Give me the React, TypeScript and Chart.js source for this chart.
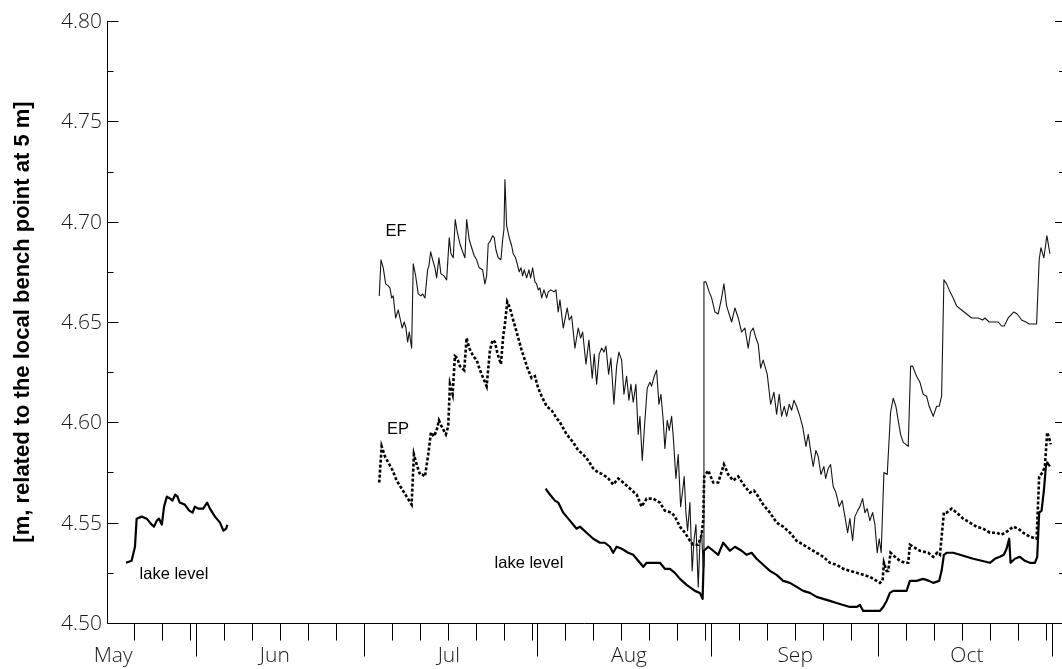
import React, { useEffect, useRef } from "react";
import { Chart, registerables } from "chart.js";

Chart.register(...registerables);

// Time axis: days counted from 1 May (1 May = 0).
const monthStarts = [0, 31, 61, 92, 123, 153, 184];
const monthNames = ["May", "Jun", "Jul", "Aug", "Sep", "Oct"];
const monthLabelDays = [16.2, 45.1, 76.2, 108.4, 138.1, 168.8];
const xRange = [15.1, 185.8];

// Level axis [m]
const yRange = [4.5, 4.8];
const yMajorTicks = [4.5, 4.55, 4.6, 4.65, 4.7, 4.75, 4.8];
const yMinorTicks = [4.525, 4.575, 4.625, 4.675, 4.725, 4.775];

const axisTitle = "[m, related to the local bench point at 5 m]";

// Lake level, spring record [day, m]
const lakeLevelSpring: number[][] = [
  [18.5, 4.53], [19.5, 4.531], [20.1, 4.538], [20.4, 4.552], [21.3, 4.553], [22.2, 4.552],
  [23.1, 4.549], [23.5, 4.548], [24.0, 4.551], [24.4, 4.552], [24.9, 4.549], [25.3, 4.558],
  [25.8, 4.563], [26.4, 4.562], [26.8, 4.561], [27.3, 4.564], [27.7, 4.563], [28.1, 4.56],
  [29.0, 4.559], [29.8, 4.556], [30.4, 4.555], [30.8, 4.558], [31.4, 4.557], [32.3, 4.557],
  [33.0, 4.56], [33.5, 4.557], [34.4, 4.553], [35.3, 4.55], [35.9, 4.546], [36.4, 4.547],
  [36.6, 4.549],
];

// Lake level, late-summer / autumn record [day, m]
const lakeLevelAutumn: number[][] = [
  [93.5, 4.567], [94.27, 4.564], [95.16, 4.561], [95.75, 4.56], [96.65, 4.555], [97.84, 4.551],
  [99.04, 4.547], [99.63, 4.548], [100.83, 4.545], [102.01, 4.542], [103.21, 4.54], [104.1, 4.54],
  [104.99, 4.538], [105.58, 4.535], [106.19, 4.538], [107.09, 4.537], [108.27, 4.535], [109.16, 4.534],
  [110.05, 4.531], [110.95, 4.528], [111.55, 4.53], [112.73, 4.53], [113.93, 4.53], [114.82, 4.527],
  [115.72, 4.527], [116.61, 4.525], [117.51, 4.522], [118.7, 4.519], [120.19, 4.516], [121.08, 4.515],
  [121.56, 4.512], [121.8, 4.536], [122.56, 4.538], [123.46, 4.536], [124.35, 4.534], [125.24, 4.54],
  [126.44, 4.536], [127.34, 4.538], [128.53, 4.536], [129.43, 4.534], [130.32, 4.535], [131.21, 4.532],
  [132.39, 4.529], [133.59, 4.526], [134.79, 4.524], [135.97, 4.521], [137.17, 4.52], [138.36, 4.518],
  [139.54, 4.516], [140.74, 4.515], [141.94, 4.513], [143.12, 4.512], [144.32, 4.511], [145.51, 4.51],
  [146.69, 4.509], [147.89, 4.508], [149.09, 4.508], [149.68, 4.509], [150.27, 4.506], [151.46, 4.506],
  [152.66, 4.506], [153.25, 4.506], [153.84, 4.508], [154.45, 4.511], [155.04, 4.515], [155.63, 4.516],
  [156.83, 4.516], [158.02, 4.516], [158.61, 4.521], [159.81, 4.521], [160.99, 4.522], [162.06, 4.521],
  [162.78, 4.52], [163.85, 4.521], [164.28, 4.526], [164.69, 4.534], [165.17, 4.535], [166.35, 4.535],
  [167.55, 4.534], [168.75, 4.533], [169.93, 4.532], [171.43, 4.531], [172.91, 4.53], [173.81, 4.532],
  [174.7, 4.533], [175.41, 4.534], [175.89, 4.537], [176.36, 4.542], [176.61, 4.53], [177.38, 4.532],
  [178.27, 4.533], [179.17, 4.531], [180.06, 4.53], [180.96, 4.53], [181.37, 4.533], [181.72, 4.555],
  [182.15, 4.556], [182.56, 4.566], [182.92, 4.578], [183.15, 4.58], [183.64, 4.578],
];

// EP level [day, m]
const epLevel: number[][] = [
  [63.76, 4.57], [64.19, 4.588], [64.78, 4.583], [65.37, 4.58], [66.16, 4.576], [66.87, 4.571],
  [67.77, 4.567], [68.66, 4.563], [69.55, 4.559], [69.96, 4.584], [70.45, 4.579], [71.04, 4.574],
  [71.45, 4.574], [71.93, 4.573], [72.52, 4.584], [73.0, 4.595], [73.54, 4.593], [74.02, 4.596],
  [74.43, 4.601], [74.91, 4.598], [75.68, 4.594], [76.09, 4.598], [76.4, 4.619], [76.88, 4.614],
  [77.29, 4.633], [77.7, 4.632], [78.18, 4.628], [78.95, 4.626], [79.38, 4.642], [79.85, 4.637],
  [80.56, 4.633], [81.17, 4.631], [81.76, 4.626], [82.35, 4.622], [82.96, 4.618], [83.55, 4.636],
  [84.03, 4.641], [84.44, 4.64], [84.92, 4.634], [85.51, 4.629], [85.92, 4.643], [86.23, 4.649],
  [86.64, 4.66], [87.12, 4.657], [87.6, 4.652], [88.02, 4.648], [88.61, 4.642], [89.21, 4.636],
  [89.8, 4.631], [90.39, 4.626], [91.0, 4.622], [91.59, 4.623], [92.18, 4.617], [92.79, 4.613],
  [93.68, 4.608], [94.57, 4.606], [95.47, 4.602], [96.06, 4.6], [97.26, 4.594], [98.44, 4.59],
  [99.33, 4.586], [100.22, 4.584], [101.12, 4.581], [102.01, 4.577], [102.9, 4.575], [103.8, 4.574],
  [104.69, 4.572], [105.58, 4.569], [106.48, 4.572], [107.37, 4.57], [108.57, 4.567], [109.77, 4.564],
  [110.66, 4.558], [111.55, 4.562], [112.73, 4.562], [113.93, 4.56], [114.82, 4.556], [116.02, 4.555],
  [116.61, 4.553], [117.51, 4.548], [118.4, 4.545], [119.29, 4.541], [119.88, 4.539], [120.78, 4.539],
  [121.38, 4.544], [121.67, 4.551], [121.85, 4.573], [122.56, 4.576], [123.46, 4.57], [124.35, 4.57],
  [125.37, 4.579], [126.14, 4.574], [127.03, 4.571], [127.93, 4.573], [129.12, 4.568], [130.02, 4.565],
  [130.73, 4.566], [131.5, 4.563], [132.39, 4.559], [133.59, 4.555], [134.79, 4.55], [135.97, 4.548],
  [137.17, 4.545], [138.36, 4.541], [139.54, 4.539], [140.74, 4.537], [141.94, 4.535], [143.12, 4.533],
  [144.32, 4.53], [145.51, 4.529], [146.69, 4.527], [147.89, 4.526], [149.09, 4.525], [150.27, 4.524],
  [151.46, 4.523], [152.66, 4.521], [153.25, 4.52], [153.73, 4.521], [153.97, 4.53], [154.45, 4.526],
  [154.74, 4.526], [155.16, 4.535], [155.93, 4.533], [156.83, 4.531], [157.72, 4.53], [158.31, 4.53],
  [158.61, 4.539], [159.2, 4.538], [160.4, 4.536], [161.88, 4.535], [162.78, 4.533], [163.49, 4.535],
  [163.98, 4.534], [164.69, 4.555], [165.17, 4.555], [166.07, 4.557], [166.96, 4.555], [168.14, 4.552],
  [169.34, 4.55], [170.53, 4.548], [171.71, 4.547], [172.91, 4.545], [174.11, 4.545], [175.0, 4.544],
  [176.18, 4.546], [177.08, 4.548], [177.97, 4.547], [178.86, 4.545], [180.06, 4.543], [181.26, 4.542],
  [181.72, 4.573], [182.33, 4.575], [182.74, 4.578], [183.15, 4.595], [183.51, 4.592], [183.81, 4.589],
];

// EF level [day, m]
const efLevel: number[][] = [
  [63.76, 4.663], [64.07, 4.681], [64.48, 4.677], [64.91, 4.669], [65.37, 4.668], [65.67, 4.667],
  [65.98, 4.662], [66.26, 4.663], [66.69, 4.652], [67.16, 4.656], [67.46, 4.652], [67.87, 4.647],
  [68.23, 4.65], [68.53, 4.647], [68.84, 4.64], [69.12, 4.645], [69.55, 4.637], [69.84, 4.679],
  [70.27, 4.673], [70.73, 4.664], [71.21, 4.663], [71.52, 4.664], [71.93, 4.662], [72.41, 4.676],
  [72.64, 4.678], [72.95, 4.685], [73.31, 4.681], [73.72, 4.677], [74.02, 4.672], [74.43, 4.682],
  [74.79, 4.674], [75.33, 4.673], [75.81, 4.671], [76.27, 4.692], [76.58, 4.684], [76.99, 4.682],
  [77.34, 4.701], [77.7, 4.695], [78.18, 4.689], [78.67, 4.685], [79.08, 4.682], [79.38, 4.701],
  [79.85, 4.691], [80.28, 4.687], [80.74, 4.683], [81.17, 4.681], [81.63, 4.677], [82.24, 4.676],
  [82.65, 4.669], [82.96, 4.673], [83.24, 4.689], [83.55, 4.69], [84.03, 4.693], [84.32, 4.692],
  [84.62, 4.686], [85.03, 4.682], [85.51, 4.681], [85.82, 4.691], [86.05, 4.696], [86.23, 4.721],
  [86.53, 4.698], [87.0, 4.692], [87.43, 4.688], [87.71, 4.684], [88.14, 4.682], [88.43, 4.679],
  [88.78, 4.675], [89.09, 4.677], [89.39, 4.673], [89.68, 4.676], [90.11, 4.672], [90.52, 4.676],
  [90.82, 4.672], [91.18, 4.677], [91.59, 4.67], [91.89, 4.669], [92.18, 4.666], [92.48, 4.667],
  [92.79, 4.662], [93.2, 4.666], [93.68, 4.662], [93.97, 4.665], [94.45, 4.666], [94.99, 4.665],
  [95.34, 4.666], [95.75, 4.655], [96.06, 4.661], [96.65, 4.647], [97.36, 4.657], [97.72, 4.651],
  [98.15, 4.653], [98.74, 4.637], [99.33, 4.647], [99.76, 4.642], [100.12, 4.645], [100.71, 4.629],
  [101.24, 4.641], [101.83, 4.622], [102.19, 4.634], [102.62, 4.619], [103.08, 4.634], [103.51, 4.637],
  [103.92, 4.635], [104.28, 4.638], [104.76, 4.624], [105.17, 4.632], [105.71, 4.609], [106.19, 4.628],
  [106.6, 4.635], [107.09, 4.631], [107.5, 4.614], [107.98, 4.623], [108.39, 4.611], [108.75, 4.619],
  [109.16, 4.61], [109.64, 4.619], [110.05, 4.594], [110.36, 4.603], [110.77, 4.581], [111.25, 4.601],
  [111.66, 4.617], [112.14, 4.62], [112.45, 4.618], [112.91, 4.623], [113.34, 4.626], [113.75, 4.609],
  [114.11, 4.614], [114.52, 4.601], [114.82, 4.587], [115.24, 4.601], [115.59, 4.596], [116.02, 4.603],
  [116.31, 4.593], [116.79, 4.572], [117.2, 4.584], [117.63, 4.558], [117.99, 4.566], [118.27, 4.573],
  [118.58, 4.555], [118.88, 4.546], [119.29, 4.56], [119.7, 4.526], [120.01, 4.541], [120.37, 4.549],
  [120.78, 4.518], [121.08, 4.54], [121.38, 4.545], [121.67, 4.528], [121.8, 4.67], [122.15, 4.67],
  [122.74, 4.665], [123.17, 4.662], [123.76, 4.655], [124.35, 4.654], [124.96, 4.662], [125.37, 4.669],
  [125.85, 4.658], [126.75, 4.65], [127.34, 4.657], [127.93, 4.652], [128.53, 4.645], [129.12, 4.647],
  [129.71, 4.637], [130.14, 4.645], [130.61, 4.647], [131.09, 4.642], [131.5, 4.639], [131.93, 4.627],
  [132.39, 4.631], [133.11, 4.624], [133.72, 4.609], [134.31, 4.615], [134.79, 4.604], [135.25, 4.614],
  [135.68, 4.603], [136.15, 4.608], [136.58, 4.603], [137.04, 4.609], [137.47, 4.606], [137.88, 4.611],
  [138.36, 4.608], [138.95, 4.603], [139.44, 4.598], [140.03, 4.588], [140.44, 4.594], [140.92, 4.585],
  [141.33, 4.578], [141.81, 4.586], [142.22, 4.583], [142.71, 4.574], [143.24, 4.578], [143.55, 4.572],
  [144.01, 4.577], [144.44, 4.579], [144.9, 4.568], [145.39, 4.565], [145.98, 4.558], [146.51, 4.561],
  [147.0, 4.553], [147.48, 4.545], [147.89, 4.552], [148.37, 4.541], [148.78, 4.553], [149.27, 4.556],
  [149.68, 4.558], [150.16, 4.562], [150.57, 4.555], [150.98, 4.557], [151.46, 4.551], [151.95, 4.555],
  [152.36, 4.549], [152.77, 4.535], [153.13, 4.542], [153.48, 4.535], [153.97, 4.575], [154.56, 4.574],
  [155.16, 4.605], [155.63, 4.612], [156.11, 4.608], [156.52, 4.601], [156.95, 4.594], [157.42, 4.59],
  [157.9, 4.589], [158.31, 4.588], [158.74, 4.628], [159.1, 4.628], [159.81, 4.623], [160.4, 4.62],
  [160.99, 4.614], [161.6, 4.613], [162.06, 4.608], [162.78, 4.603], [163.39, 4.608], [163.85, 4.608],
  [164.28, 4.613], [164.69, 4.671], [165.17, 4.669], [165.64, 4.666], [166.35, 4.662], [166.96, 4.658],
  [167.85, 4.656], [168.75, 4.654], [169.64, 4.652], [170.82, 4.652], [171.61, 4.651], [172.02, 4.652],
  [172.79, 4.65], [173.81, 4.65], [174.4, 4.65], [175.0, 4.648], [175.47, 4.648], [176.18, 4.652],
  [177.2, 4.655], [177.79, 4.654], [178.58, 4.651], [179.35, 4.65], [179.94, 4.649], [181.26, 4.649],
  [181.72, 4.681], [182.03, 4.687], [182.56, 4.682], [183.1, 4.693], [183.64, 4.684],
];

// In-plot text annotations: [text, day, m]
const annotations: [string, number, number][] = [
  ["EF", 66.75, 4.695],
  ["EP", 67.1, 4.5965],
  ["lake level", 27.07, 4.5244],
  ["lake level", 90.52, 4.5299],
];

const TICK_FONT = '300 21px "Open Sans", "DejaVu Sans", sans-serif';

const frameAxes = {
  id: "frameAxes",
  afterDraw(chart: any) {
    const { ctx, chartArea: a, scales } = chart;
    const xs = scales.x;
    const ys = scales.y;
    const L = Math.round(a.left) + 0.5;
    const B = Math.round(a.bottom) + 0.5;
    const R = a.right;
    ctx.save();
    ctx.strokeStyle = "#000";
    ctx.lineWidth = 1;
    ctx.beginPath();
    // axis lines
    ctx.moveTo(L, Math.round(a.top));
    ctx.lineTo(L, B);
    ctx.lineTo(R, B);
    // level ticks, left (inward) and right (inward)
    const yTick = (v: number, lenL: number, lenR: number) => {
      const y = Math.round(ys.getPixelForValue(v)) + 0.5;
      ctx.moveTo(L, y);
      ctx.lineTo(L + lenL, y);
      ctx.moveTo(R - lenR, y);
      ctx.lineTo(R, y);
    };
    yMajorTicks.forEach((v) => yTick(v, 11, 7));
    yMinorTicks.forEach((v) => yTick(v, 6, 3));
    // time ticks (outward): month boundaries long, 5-day marks short
    const xTick = (d: number, len: number) => {
      if (d < xRange[0] + 0.5 || d > xRange[1]) return;
      const x = Math.round(xs.getPixelForValue(d)) + 0.5;
      ctx.moveTo(x, B);
      ctx.lineTo(x, B + len);
    };
    for (let m = 0; m < monthStarts.length; m++) {
      xTick(monthStarts[m], 33);
      const next = m + 1 < monthStarts.length ? monthStarts[m + 1] : monthStarts[m] + 31;
      for (let k = 5; monthStarts[m] + k < next; k += 5) xTick(monthStarts[m] + k, 17);
    }
    ctx.stroke();

    // tick labels
    ctx.fillStyle = "#1a1a1a";
    ctx.font = TICK_FONT;
    ctx.textAlign = "right";
    ctx.textBaseline = "middle";
    yMajorTicks.forEach((v) => {
      ctx.fillText(v.toFixed(2), a.left - 5, ys.getPixelForValue(v) + 1);
    });
    ctx.textAlign = "center";
    ctx.textBaseline = "alphabetic";
    monthNames.forEach((name, i) => {
      ctx.fillText(name, xs.getPixelForValue(monthLabelDays[i]), B + 38);
    });

    // axis title
    ctx.fillStyle = "#000";
    ctx.font = 'bold 22px "Liberation Sans", Arial, sans-serif';
    ctx.translate(29, (a.top + a.bottom) / 2);
    ctx.rotate(-Math.PI / 2);
    ctx.textAlign = "center";
    ctx.textBaseline = "alphabetic";
    ctx.fillText(axisTitle, 0, 0);
    ctx.restore();
  },
};

const seriesNames = {
  id: "seriesNames",
  afterDatasetsDraw(chart: any) {
    const { ctx, scales } = chart;
    ctx.save();
    ctx.fillStyle = "#000";
    ctx.font = '16.5px "Liberation Sans", Arial, sans-serif';
    ctx.textAlign = "center";
    ctx.textBaseline = "middle";
    annotations.forEach(([t, d, v]) => {
      ctx.fillText(t, scales.x.getPixelForValue(d), scales.y.getPixelForValue(v));
    });
    ctx.restore();
  },
};

const toPoints = (rows: number[][]) => rows.map(([x, y]) => ({ x, y }));

export default function App() {
  const ref = useRef<HTMLCanvasElement>(null);

  useEffect(() => {
    document.body.style.margin = "0";
    const canvas = ref.current;
    if (!canvas) return;
    const chart = new Chart(canvas, {
      type: "line",
      data: {
        datasets: [
          {
            label: "EF",
            data: toPoints(efLevel),
            borderColor: "#151515",
            borderWidth: 1.1,
            borderJoinStyle: "round",
          },
          {
            label: "EP",
            data: toPoints(epLevel),
            borderColor: "#000",
            borderWidth: 2.6,
            borderDash: [3, 2],
          },
          {
            label: "lake level",
            data: toPoints(lakeLevelSpring),
            borderColor: "#000",
            borderWidth: 2.2,
            borderJoinStyle: "round",
          },
          {
            label: "lake level",
            data: toPoints(lakeLevelAutumn),
            borderColor: "#000",
            borderWidth: 2.2,
            borderJoinStyle: "round",
          },
        ],
      },
      options: {
        animation: false,
        responsive: false,
        events: [],
        elements: { point: { radius: 0 }, line: { tension: 0, fill: false } },
        layout: { padding: { left: 107, right: 0, top: 21, bottom: 46 } },
        scales: {
          x: { type: "linear", min: xRange[0], max: xRange[1], display: false },
          y: { type: "linear", min: yRange[0], max: yRange[1], display: false },
        },
        plugins: { legend: { display: false }, tooltip: { enabled: false } },
      },
      plugins: [frameAxes, seriesNames],
    } as any);
    return () => chart.destroy();
  }, []);

  return (
    <div style={{ width: 1062, height: 669, background: "#fff" }}>
      <canvas ref={ref} width={1062} height={669} style={{ display: "block" }} />
    </div>
  );
}
